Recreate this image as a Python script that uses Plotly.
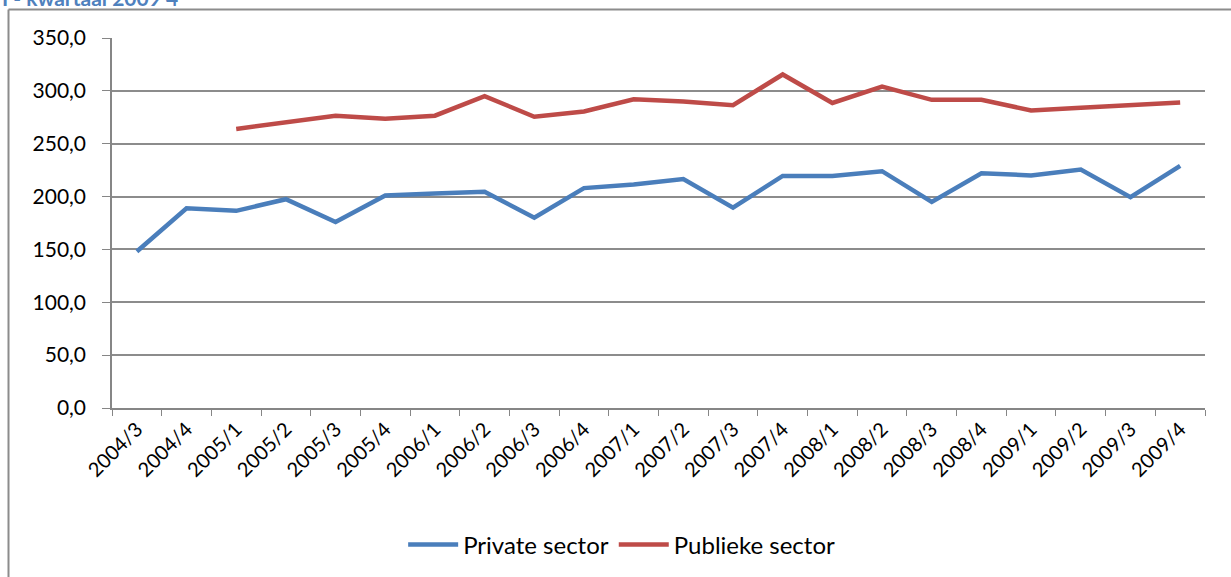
import plotly.graph_objects as go

categories = ["2004/3", "2004/4", "2005/1", "2005/2", "2005/3", "2005/4",
              "2006/1", "2006/2", "2006/3", "2006/4", "2007/1", "2007/2",
              "2007/3", "2007/4", "2008/1", "2008/2", "2008/3", "2008/4",
              "2009/1", "2009/2", "2009/3", "2009/4"]
private_sector = [148, 189, 186.5, 197.5, 176, 201, 203, 204.5, 180, 208, 211.5, 216.5,
                  189.5, 219.5, 219.5, 224, 195, 222, 220, 225.5, 199.5, 229]
publieke_sector = [None, None, 264, 270, 276.5, 273.5, 276.5, 295, 275.5, 280.5, 292, 290,
                   286.5, 315.5, 288.5, 304, 291.5, 291.5, 281.5, 284, 286, 289]
y_ticks = [0, 50, 100, 150, 200, 250, 300, 350]

W, H = 1231, 577
FONT = "Lato, 'Open Sans', sans-serif"

fig = go.Figure()
fig.add_trace(go.Scatter(x=categories, y=private_sector, mode="lines", name="Private sector",
                         line=dict(color="#4A7EBB", width=4.5), connectgaps=False))
fig.add_trace(go.Scatter(x=categories, y=publieke_sector, mode="lines", name="Publieke sector",
                         line=dict(color="#BE4B48", width=4.5), connectgaps=False))

fig.update_layout(
    width=W, height=H,
    margin=dict(l=0, r=0, t=0, b=0),
    paper_bgcolor="white", plot_bgcolor="white",
    separators=",.",
    font=dict(family=FONT, color="black"),
    xaxis=dict(domain=[112 / W, 1205 / W], type="category", tickangle=-45,
               range=[-0.5, len(categories) - 0.5],
               showgrid=False, showline=True, linecolor="#868686", linewidth=1.5,
               ticks="outside", tickson="boundaries", ticklen=6, tickcolor="#868686",
               tickfont=dict(size=20, family=FONT), automargin=False),
    yaxis=dict(domain=[(H - 408) / H, (H - 38) / H], range=[0, 350], tickvals=y_ticks,
               tickformat=".1f", showgrid=True, gridcolor="#8C8C8C", gridwidth=1.5,
               showline=True, linecolor="#868686", linewidth=1.5, zeroline=False,
               ticks="outside", ticklen=8, tickcolor="#868686", ticklabelstandoff=12,
               tickfont=dict(size=21, family=FONT), automargin=False),
    legend=dict(orientation="h", x=0.505, xanchor="center", y=(H - 545) / H, yanchor="middle",
                font=dict(size=24, family=FONT), itemwidth=50, bgcolor="rgba(0,0,0,0)"),
    showlegend=True,
    shapes=[
        dict(type="line", xref="paper", yref="paper", x0=8.5 / W, x1=1.0, y0=1 - 9.5 / H, y1=1 - 9.5 / H,
             line=dict(color="#8C8C8C", width=2)),
        dict(type="line", xref="paper", yref="paper", x0=8.5 / W, x1=8.5 / W, y0=0, y1=1 - 9.5 / H,
             line=dict(color="#8C8C8C", width=2)),
    ],
    annotations=[
        dict(text="<b>I - kwartaal 2009 4</b>", xref="paper", yref="paper", x=0, y=1,
             xanchor="left", yanchor="middle", yshift=3, showarrow=False,
             font=dict(size=21, color="#4F81BD", family=FONT)),
    ],
)

fig.write_html("out.html", config={"displayModeBar": False},
               post_script="document.body.style.margin='0';document.body.style.overflow='hidden';")
